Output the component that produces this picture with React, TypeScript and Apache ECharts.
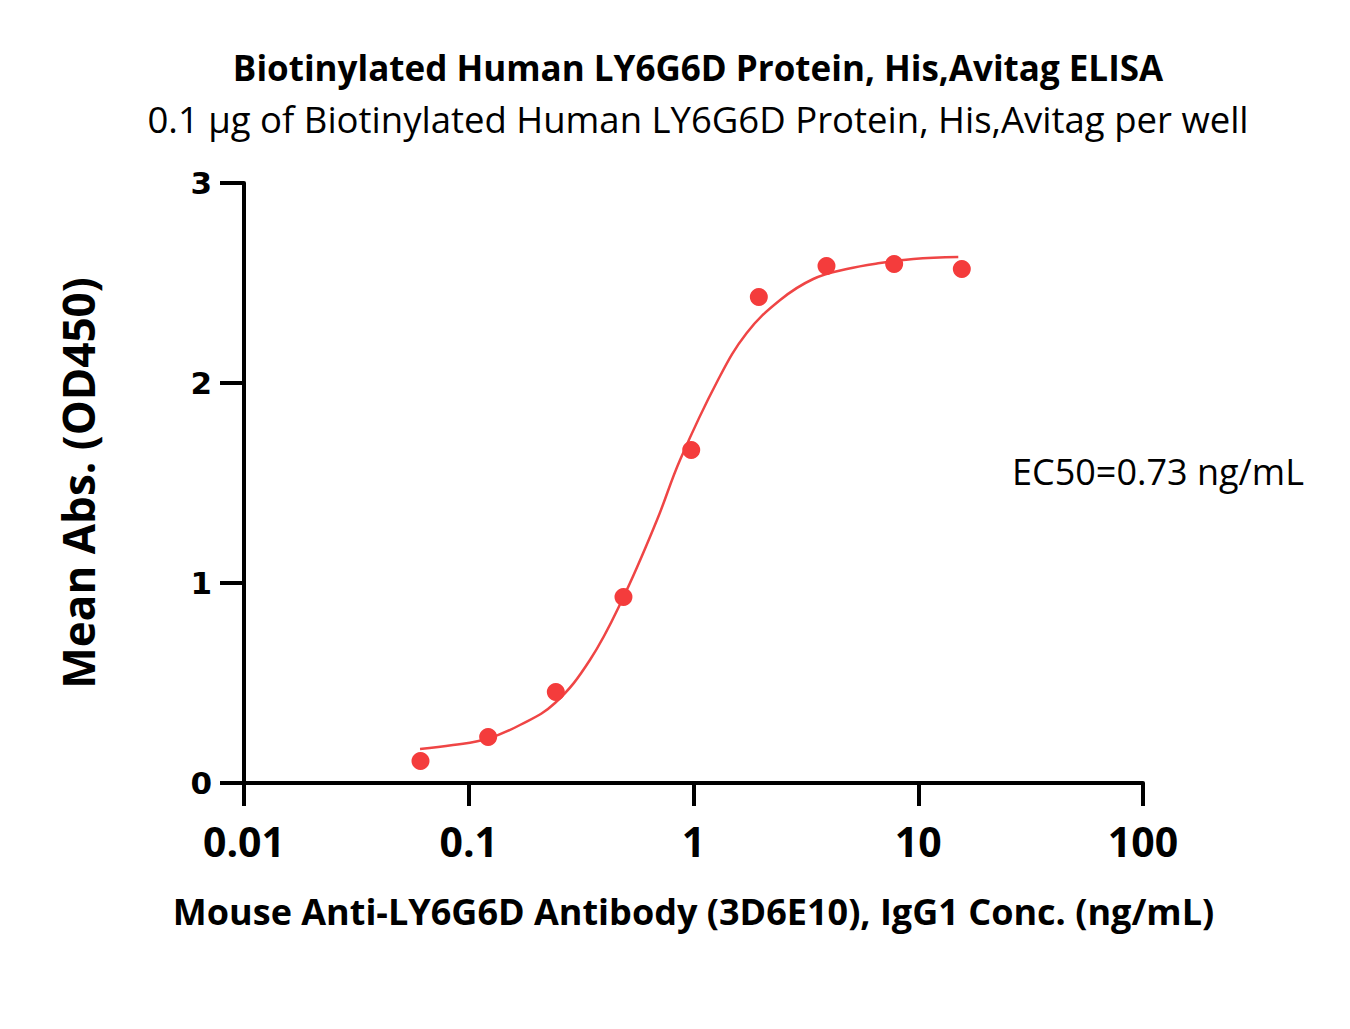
import React, { useEffect, useRef } from "react";
import * as echarts from "echarts";

const titleText = "Biotinylated Human LY6G6D Protein, His,Avitag ELISA";
const subtitleText = "0.1 µg of Biotinylated Human LY6G6D Protein, His,Avitag per well";
const xAxisTitle = "Mouse Anti-LY6G6D Antibody (3D6E10), IgG1 Conc. (ng/mL)";
const yAxisTitle = "Mean Abs. (OD450)";
const ec50Text = "EC50=0.73 ng/mL";

const concentrations = [0.061, 0.122, 0.244, 0.488, 0.977, 1.953, 3.906, 7.8125, 15.625];
const meanAbs = [0.11, 0.23, 0.455, 0.93, 1.665, 2.43, 2.585, 2.595, 2.57];

const curveX = [0.0607, 0.0851, 0.1205, 0.169, 0.242, 0.346, 0.481, 0.688, 0.871, 1.285, 1.725, 2.43, 3.41, 4.81, 6.76, 9.51, 15.07];
const curveY = [0.17, 0.19, 0.22, 0.29, 0.40, 0.615, 0.915, 1.315, 1.615, 2.015, 2.25, 2.415, 2.52, 2.57, 2.60, 2.62, 2.63];

const xTicks = [0.01, 0.1, 1, 10, 100];
const yTicks = [0, 1, 2, 3];

export default function App() {
  const ref = useRef<HTMLDivElement>(null);
  useEffect(() => {
    document.body.style.margin = "0";
    if (!ref.current) return;
    const chart = echarts.init(ref.current, null, { renderer: "svg" });
    const font = "'Open Sans', Lato, sans-serif";
    chart.setOption({
      animation: false,
      backgroundColor: "#ffffff",
      title: [
        {
          text: titleText,
          left: 693,
          textAlign: "center",
          top: 45,
          textStyle: { fontFamily: font, fontSize: 35, fontWeight: "bold", color: "#000" },
        },
        {
          text: subtitleText,
          left: 693,
          textAlign: "center",
          top: 95,
          textStyle: { fontFamily: font, fontSize: 36.5, fontWeight: "normal", color: "#000" },
        },
      ],
      grid: { left: 244, right: 207, top: 183, bottom: 246, containLabel: false },
      xAxis: {
        type: "log",
        logBase: 10,
        min: xTicks[0],
        max: xTicks[xTicks.length - 1],
        name: xAxisTitle,
        nameLocation: "middle",
        nameGap: 110,
        nameTextStyle: { fontFamily: font, fontSize: 36, fontWeight: "bold", color: "#000" },
        axisLine: { show: true, onZero: false, lineStyle: { color: "#000", width: 4 } },
        axisTick: { show: true, length: 23, lineStyle: { color: "#000", width: 4 } },
        minorTick: { show: false },
        splitLine: { show: false },
        axisLabel: {
          margin: 37,
          fontFamily: font,
          fontSize: 41,
          fontWeight: "bold",
          color: "#000",
          formatter: (v: number) => String(v),
        },
      },
      yAxis: {
        type: "value",
        min: yTicks[0],
        max: yTicks[yTicks.length - 1],
        interval: 1,
        name: yAxisTitle,
        nameLocation: "middle",
        nameGap: 144,
        nameTextStyle: { fontFamily: font, fontSize: 44, fontWeight: "bold", color: "#000" },
        axisLine: { show: true, lineStyle: { color: "#000", width: 4 } },
        axisTick: { show: true, length: 24, lineStyle: { color: "#000", width: 4 } },
        splitLine: { show: false },
        axisLabel: {
          margin: 32,
          fontFamily: "'DejaVu Sans', sans-serif",
          fontSize: 31,
          fontWeight: "bold",
          color: "#000",
        },
      },
      graphic: [
        {
          type: "text",
          left: 1012,
          top: 453,
          style: { text: ec50Text, font: `normal 36px ${font}`, fill: "#000" },
        },
      ],
      series: [
        {
          type: "line",
          data: curveX.map((x, i) => [x, curveY[i]]),
          smooth: 0.4,
          showSymbol: false,
          symbol: "none",
          lineStyle: { color: "#EF4545", width: 2.5 },
          z: 2,
        },
        {
          type: "scatter",
          data: concentrations.map((x, i) => [x, meanAbs[i]]),
          symbol: "circle",
          symbolSize: 18,
          itemStyle: { color: "#F43C3C", opacity: 1 },
          z: 3,
        },
      ],
    });
    return () => chart.dispose();
  }, []);
  return <div ref={ref} style={{ width: 1350, height: 1029 }} />;
}
